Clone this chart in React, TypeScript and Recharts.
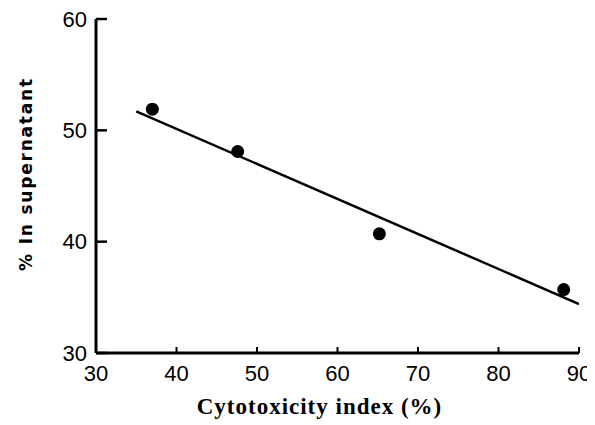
import {
  ComposedChart,
  Scatter,
  Line,
  XAxis,
  YAxis,
} from "recharts";

// measured points: cytotoxicity index (%) vs % in supernatant
const cytotoxicity = [37, 47.6, 65.2, 88.1];
const supernatant = [51.9, 48.1, 40.7, 35.7];

// fitted line end points
const fitX = [35, 90];
const fitY = [51.7, 34.4];

const xTicks = [30, 40, 50, 60, 70, 80, 90];
const yTicks = [30, 40, 50, 60];

const points = cytotoxicity.map((x, i) => ({ x, y: supernatant[i] }));
const fitLine = fitX.map((x, i) => ({ x, y: fitY[i] }));

const tickFont = "'Liberation Sans', Arial, sans-serif";

const XTick = (props: any) => {
  const { x, y, payload } = props;
  return (
    <g>
      <line x1={x} x2={x} y1={y - 20} y2={y - 26} stroke="#000" strokeWidth={2} />
      <text
        x={x}
        y={y}
        textAnchor="middle"
        dominantBaseline="central"
        fontFamily={tickFont}
        fontSize={22}
        fill="#000"
      >
        {payload.value}
      </text>
    </g>
  );
};

const YTick = (props: any) => {
  const { x, y, payload } = props;
  return (
    <g>
      <line x1={x + 9} x2={x + 20} y1={y} y2={y} stroke="#000" strokeWidth={2.5} />
      <text
        x={x}
        y={y}
        textAnchor="end"
        dominantBaseline="central"
        fontFamily={tickFont}
        fontSize={22}
        fill="#000"
      >
        {payload.value}
      </text>
    </g>
  );
};

export default function App() {
  return (
    <div style={{ background: "#fff" }}>
      <ComposedChart
        width={587}
        height={417}
        margin={{ top: 11, right: 16, left: 0, bottom: 0 }}
      >
        <XAxis
          type="number"
          dataKey="x"
          domain={[30, 90]}
          ticks={xTicks}
          height={72}
          tickSize={0}
          tickMargin={20}
          tickLine={false}
          tick={<XTick />}
          stroke="#000"
          strokeWidth={3}
          allowDataOverflow
          label={{
            value: "Cytotoxicity index (%)",
            position: "insideBottom",
            offset: 11,
            dx: -18,
            fill: "#000",
            style: {
              fontFamily: "'Liberation Serif', 'Times New Roman', serif",
              fontWeight: "bold",
              fontSize: 23,
              letterSpacing: 1,
            },
          }}
        />
        <YAxis
          type="number"
          dataKey="y"
          domain={[30, 60]}
          ticks={yTicks}
          width={88}
          tickSize={0}
          tickMargin={9}
          tickLine={false}
          tick={<YTick />}
          stroke="#000"
          strokeWidth={3}
          allowDataOverflow
          label={{
            value: "% In supernatant",
            angle: -90,
            position: "insideLeft",
            offset: 18,
            dy: -12,
            fill: "#000",
            style: {
              fontFamily: "'DejaVu Sans', sans-serif",
              fontWeight: "bold",
              fontSize: 17,
              letterSpacing: 1.8,
              textAnchor: "middle",
            },
          }}
        />
        <Line
          data={fitLine}
          dataKey="y"
          type="linear"
          stroke="#000"
          strokeWidth={2.5}
          dot={false}
          activeDot={false}
          isAnimationActive={false}
        />
        <Scatter
          data={points}
          dataKey="y"
          fill="#000"
          shape={(p: any) => <circle cx={p.cx} cy={p.cy} r={6.5} fill="#000" />}
          isAnimationActive={false}
        />
      </ComposedChart>
    </div>
  );
}
